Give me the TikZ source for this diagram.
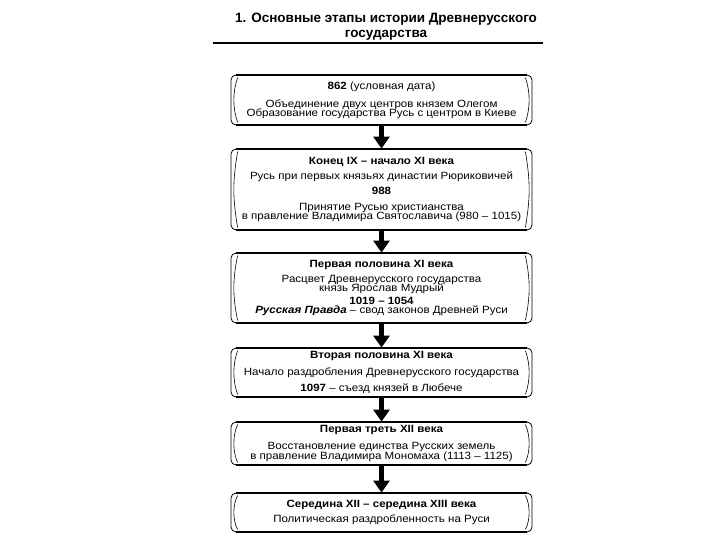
\documentclass[tikz,border=0pt]{standalone}
\usepackage{fontspec}
\setmainfont{Liberation Sans}
\newfontfamily\boxfont{Liberation Sans}[FakeStretch=1.1,Ligatures=TeX]
\usetikzlibrary{positioning,arrows.meta,calc}
\tikzset{
  etap/.style={draw,line width=0.8pt,rounded corners=5pt,minimum width=301pt,inner sep=0pt,align=center,
    font=\boxfont\fontsize{10.5}{9.2}\selectfont,execute at begin node={\lineskiplimit=-9pt\relax}},
  rim/.style={line width=2pt},
  curl/.style={line width=0.6pt},
  arr/.style={-{Triangle[width=16pt,length=12pt]},line width=5pt},
  title/.style={font=\fontsize{13.5}{15}\selectfont\bfseries,align=center,inner sep=0pt},
}
\newcommand{\hd}[1]{\textbf{#1}}

\begin{document}
\begin{tikzpicture}[x=1pt,y=-1pt]
\useasboundingbox[fill=white] (0,0) rectangle (720,540);
\node[title] (t) at (386,26.5) {1. Основные этапы истории Древнерусского\\государства};
\coordinate (rl) at (213,43);
\coordinate (rr) at (543,43);
\draw[line width=1.8pt] (rl) -- (rr);
% этапы
\node[etap,minimum height=50pt] (e1) at (381.5,100) {\hd{862} (условная дата)\\[9pt]Объединение двух центров князем Олегом\\Образование государства Русь с центром в Киеве};
\node[etap,minimum height=81pt] (e2) at (381.5,189.5) {\hd{Конец IX – начало XI века}\\[6pt]Русь при первых князьях династии Рюриковичей\\[5pt]\hd{988}\\[7pt]Принятие Русью христианства\\в правление Владимира Святославича (980 – 1015)};
\node[etap,minimum height=70pt] (e3) at (381.5,288) {\hd{Первая половина XI века}\\[6pt]Расцвет Древнерусского государства\\князь Ярослав Мудрый\\[4pt]\hd{1019 – 1054}\\\textbf{\textit{Русская Правда}} – свод законов Древней Руси};
\node[etap,minimum height=49pt] (e4) at (381.5,372.5) {\hd{Вторая половина XI века}\\[8pt]Начало раздробления Древнерусского государства\\[7pt]\hd{1097} – съезд князей в Любече};
\node[etap,minimum height=43pt] (e5) at (381.5,443.5) {\hd{Первая треть XII века}\\[8pt]Восстановление единства Русских земель\\[1pt]в правление Владимира Мономаха (1113 – 1125)};
\node[etap,minimum height=39pt] (e6) at (381.5,512.5) {\hd{Середина XII – середина XIII века}\\[6pt]Политическая раздробленность на Руси};
\foreach \n in {e1,e2,e3,e4,e5,e6}{
  \draw[rim] ($(\n.north west)+(5,0)$) -- ($(\n.north east)+(-5,0)$);
  \draw[rim] ($(\n.south west)+(5,0)$) -- ($(\n.south east)+(-5,0)$);
  \draw[curl] ($(\n.north west)+(7,3)$) .. controls ($(\n.west)+(2,-8)$) and ($(\n.west)+(2,8)$) .. ($(\n.south west)+(7,-3)$);
  \draw[curl] ($(\n.north east)+(-7,3)$) .. controls ($(\n.east)+(-2,-8)$) and ($(\n.east)+(-2,8)$) .. ($(\n.south east)+(-7,-3)$);
}
\foreach \a/\b in {e1/e2,e2/e3,e3/e4,e4/e5,e5/e6}{\draw[arr] (\a.south) -- (\b.north);}
\end{tikzpicture}
\end{document}
